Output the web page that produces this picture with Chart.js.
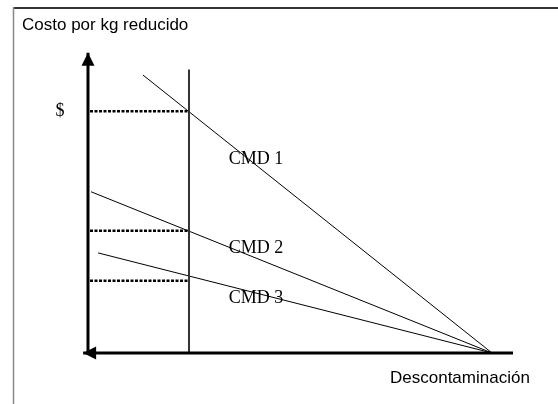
<!DOCTYPE html>
<html>
<head>
<meta charset="utf-8">
<script src="https://cdn.jsdelivr.net/npm/chart.js@4.4.1/dist/chart.umd.min.js"></script>
<style>
  html, body { margin: 0; padding: 0; background: #fff; }
  canvas { display: block; }
</style>
</head>
<body>
<canvas id="chart" width="558" height="404"></canvas>
<script>
// curves: cost per kg vs. descontaminación, all reach zero at the same point
const categories = ['CMD 1', 'CMD 2', 'CMD 3'];
const startX = [13.6, 0.75, 2.5];
const startY = [100, 58, 36];
const endX = 100;

// vertical cut and the prices read at it
const cutX = 25;
const cutTop = 102;
const prices = [87, 44, 26];

// axes ends
const xAxisFrom = -1.2;
const xAxisTo = 105.2;
const yAxisTo = 108;

const titleText = 'Costo por kg reducido';
const xName = 'Descontaminación';
const yName = '$';

const curveSets = categories.map((name, i) => ({
  label: name,
  data: [{ x: startX[i], y: startY[i] }, { x: endX, y: 0 }],
  borderColor: '#000',
  borderWidth: 1
}));

const priceSets = prices.map(p => ({
  label: 'precio',
  data: [{ x: 0.5, y: p }, { x: cutX, y: p }],
  borderColor: '#000',
  borderWidth: 2.5,
  borderDash: [3, 1.5]
}));

const datasets = [
  { label: 'eje y', arrow: 'up', data: [{ x: 0, y: 0 }, { x: 0, y: yAxisTo }], borderColor: '#000', borderWidth: 3 },
  { label: 'eje x', arrow: 'left', data: [{ x: xAxisTo, y: 0 }, { x: xAxisFrom, y: 0 }], borderColor: '#000', borderWidth: 3 },
  { label: 'corte', data: [{ x: cutX, y: 0 }, { x: cutX, y: cutTop }], borderColor: '#333', borderWidth: 2 },
  ...priceSets,
  ...curveSets
];

// where the curve names sit
const nameX = [41.6, 41.6, 41.6];
const nameY = [69.8, 37.8, 19.8];

const decor = {
  id: 'decor',
  afterDatasetsDraw(chart) {
    const { ctx, scales: { x, y } } = chart;
    ctx.save();

    // arrow heads
    ctx.fillStyle = '#000';
    chart.data.datasets.forEach(ds => {
      if (!ds.arrow) return;
      const last = ds.data[ds.data.length - 1];
      const px = x.getPixelForValue(last.x);
      const py = y.getPixelForValue(last.y);
      ctx.beginPath();
      if (ds.arrow === 'up') {
        ctx.moveTo(px, py);
        ctx.lineTo(px - 6.5, py + 13);
        ctx.lineTo(px + 6.5, py + 13);
      } else {
        ctx.moveTo(px, py);
        ctx.lineTo(px + 13, py - 6.5);
        ctx.lineTo(px + 13, py + 6.5);
      }
      ctx.closePath();
      ctx.fill();
    });

    // frame
    ctx.strokeStyle = '#333';
    ctx.lineWidth = 2;
    ctx.beginPath();
    ctx.moveTo(13, 8);
    ctx.lineTo(558, 8);
    ctx.stroke();
    ctx.strokeStyle = '#888';
    ctx.lineWidth = 1.5;
    ctx.beginPath();
    ctx.moveTo(13.5, 7);
    ctx.lineTo(13.5, 404);
    ctx.stroke();

    // texts
    ctx.fillStyle = '#000';
    ctx.textBaseline = 'middle';
    ctx.font = '17px "Liberation Sans", Arial, sans-serif';
    ctx.textAlign = 'left';
    ctx.fillText(titleText, 22, 25);
    ctx.fillText(xName, 390, 378);

    ctx.font = '18px "Liberation Serif", "Times New Roman", serif';
    ctx.textAlign = 'center';
    ctx.fillText(yName, x.getPixelForValue(-6.9), y.getPixelForValue(prices[0]));
    categories.forEach((name, i) => {
      ctx.fillText(name, x.getPixelForValue(nameX[i]), y.getPixelForValue(nameY[i]));
    });
    ctx.restore();
  }
};

new Chart(document.getElementById('chart'), {
  type: 'scatter',
  data: { datasets },
  options: {
    responsive: false,
    animation: false,
    showLine: true,
    layout: { padding: 0 },
    elements: { point: { radius: 0, hoverRadius: 0 }, line: { tension: 0 } },
    plugins: { legend: { display: false }, tooltip: { enabled: false } },
    scales: {
      x: { type: 'linear', min: -21.78, max: 116.34, display: false },
      y: { type: 'linear', min: -18.35, max: 126.98, display: false }
    }
  },
  plugins: [decor]
});
</script>
</body>
</html>
